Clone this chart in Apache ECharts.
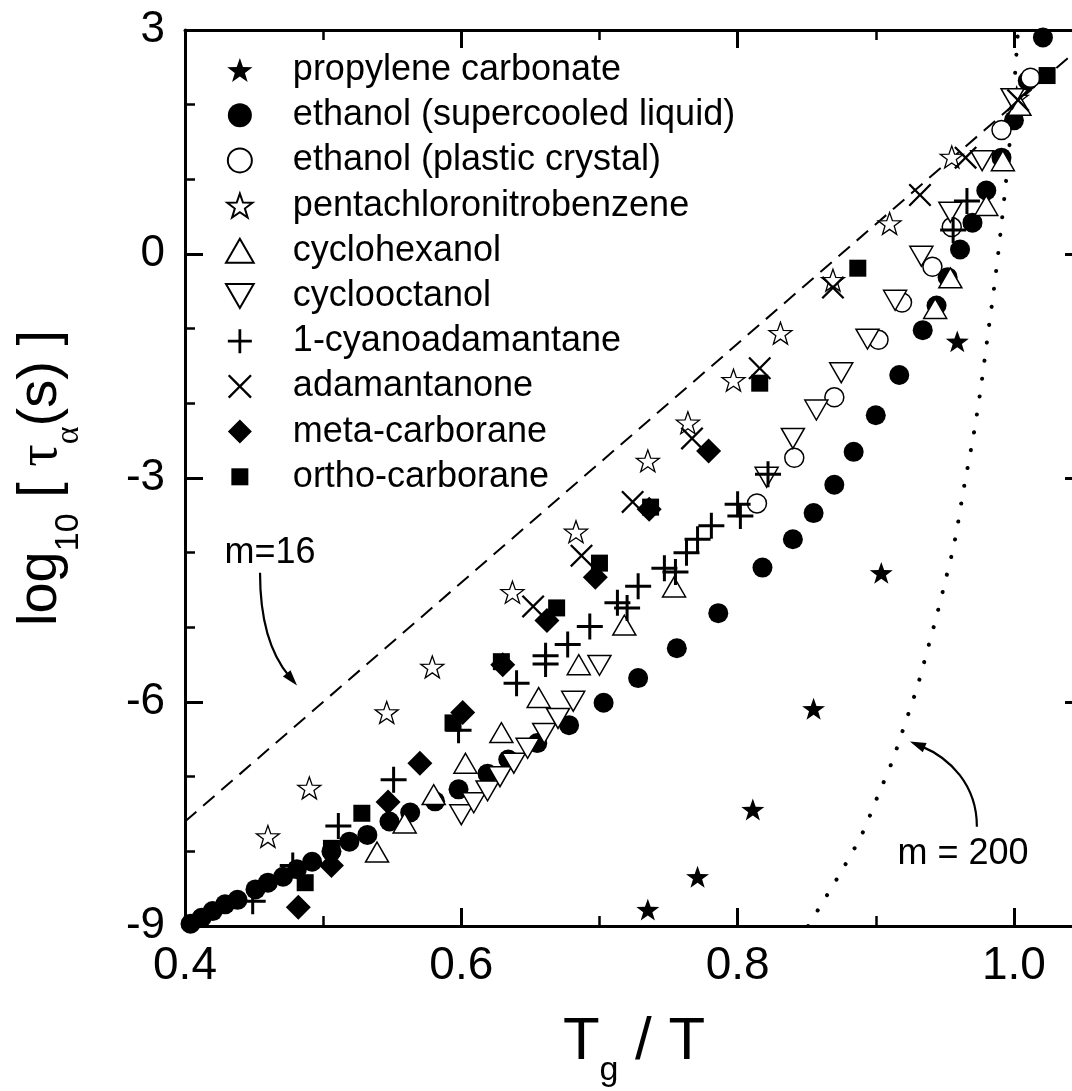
<!DOCTYPE html>
<html>
<head>
<meta charset="utf-8">
<script src="https://cdn.jsdelivr.net/npm/echarts@6/dist/echarts.min.js"></script>
<style>
  html, body { margin: 0; padding: 0; background: #fff; }
  #chart { width: 1072px; height: 1091px; }
</style>
</head>
<body>
<div id="chart"></div>
<script>
// data: [Tg/T, log10 tau]
const propyleneCarbonate = [[0.735,-8.78],[0.771,-8.34],[0.811,-7.44],[0.855,-6.09],[0.904,-4.27],[0.959,-1.17]];
const ethanolLiquid = [
  [0.404,-8.97],[0.412,-8.89],[0.420,-8.80],[0.429,-8.71],[0.438,-8.65],[0.451,-8.51],[0.460,-8.42],
  [0.471,-8.34],[0.481,-8.24],[0.492,-8.14],[0.506,-8.00],[0.519,-7.87],[0.532,-7.78],[0.548,-7.60],
  [0.563,-7.48],[0.581,-7.33],[0.598,-7.17],[0.619,-6.96],[0.634,-6.77],[0.655,-6.55],[0.678,-6.31],
  [0.703,-6.01],[0.728,-5.68],[0.756,-5.28],[0.786,-4.81],[0.818,-4.20],[0.840,-3.82],[0.855,-3.47],
  [0.870,-3.09],[0.884,-2.65],[0.900,-2.16],[0.917,-1.62],[0.934,-1.02],[0.944,-0.69],[0.952,-0.31],
  [0.961,0.06],[0.970,0.42],[0.980,0.85],[0.991,1.29],[1.000,1.79],[1.010,2.32],[1.021,2.90]
];
const ethanolCrystal = [[0.814,-3.34],[0.841,-2.73],[0.870,-1.92],[0.902,-1.15],[0.919,-0.65],[0.941,-0.17],[0.955,0.36],[0.991,1.66],[1.012,2.36]];
const pentachloronitrobenzene = [
  [0.460,-7.80],[0.490,-7.15],[0.546,-6.14],[0.579,-5.53],[0.637,-4.53],[0.683,-3.72],[0.735,-2.77],
  [0.764,-2.26],[0.797,-1.69],[0.831,-1.06],[0.869,-0.35],[0.910,0.41],[0.955,1.30],[1.002,2.09]
];
const cyclohexanol = [
  [0.539,-8.01],[0.559,-7.62],[0.580,-7.24],[0.603,-6.82],[0.629,-6.41],[0.656,-5.94],[0.685,-5.50],
  [0.718,-4.97],[0.754,-4.46],[0.943,-0.73],[0.954,-0.32],[0.980,0.65],[0.992,1.25],[1.004,1.99]
];
const cyclooctanol = [
  [0.600,-7.51],[0.609,-7.35],[0.619,-7.19],[0.628,-7.00],[0.638,-6.82],[0.648,-6.62],[0.660,-6.42],
  [0.670,-6.22],[0.681,-5.99],[0.700,-5.51],[0.821,-2.99],[0.840,-2.47],[0.857,-2.09],[0.875,-1.59],
  [0.894,-1.14],[0.914,-0.62],[0.933,-0.03],[0.954,0.56],[0.977,1.25],[0.999,2.08]
];
const cyanoadamantane = [
  [0.449,-8.67],[0.478,-8.19],[0.511,-7.66],[0.551,-7.04],[0.598,-6.38],[0.640,-5.75],[0.661,-5.49],
  [0.661,-5.38],[0.677,-5.23],[0.693,-4.99],[0.713,-4.67],[0.720,-4.74],[0.728,-4.45],[0.747,-4.21],
  [0.755,-4.26],[0.763,-4.00],[0.771,-3.82],[0.781,-3.64],[0.800,-3.35],[0.802,-3.51],[0.822,-2.95],
  [0.956,0.32],[0.966,0.71]
];
const adamantanone = [[0.652,-4.72],[0.687,-4.04],[0.724,-3.32],[0.767,-2.47],[0.816,-1.53],[0.869,-0.45],[0.932,0.79],[0.965,1.29],[1.003,2.06]];
const metaCarborane = [[0.482,-8.75],[0.506,-8.19],[0.547,-7.34],[0.570,-6.82],[0.601,-6.14],[0.630,-5.50],[0.662,-4.91],[0.697,-4.33],[0.736,-3.42],[0.779,-2.64]];
const orthoCarborane = [[0.487,-8.42],[0.506,-7.96],[0.528,-7.49],[0.594,-6.28],[0.629,-5.46],[0.669,-4.74],[0.700,-4.14],[0.737,-3.39],[0.816,-1.73],[0.887,-0.19],[1.024,2.39]];

// guide curves
const strongLine = [[0.4,-7.6],[1.05,2.8]];           // m = 16
const fragileCurve = [
  [0.851,-9.0],[0.860,-8.73],[0.876,-8.24],[0.890,-7.77],[0.901,-7.28],[0.912,-6.79],[0.921,-6.30],
  [0.930,-5.80],[0.937,-5.33],[0.944,-4.85],[0.951,-4.33],[0.957,-3.86],[0.964,-3.11],[0.971,-2.40],
  [0.976,-1.80],[0.981,-1.10],[0.986,-0.40],[0.991,0.40],[0.996,1.30],[1.000,2.20],[1.003,3.0]
];                                                      // m = 200

// annotations (data coords)
const note16 = {text: 'm=16', at: [0.4615,-4.0], arrow: [[0.4543,-4.27],[0.4543,-5.03],[0.4651,-5.43],[0.4811,-5.78]]};
const note200 = {text: 'm = 200', at: [0.9631,-8.04], arrow: [[0.9732,-7.67],[0.9732,-7.11],[0.9537,-6.75],[0.9247,-6.53]]};

const xTicks = [0.4, 0.6, 0.8, 1.0];

const FONT = 'Liberation Sans, Arial, Helvetica, sans-serif';
const STAR = 'path://M0,-10L2.35,-3.24L9.51,-3.09L3.8,1.24L5.88,8.09L0,4L-5.88,8.09L-3.8,1.24L-9.51,-3.09L-2.35,-3.24Z';
const TRI_UP = 'path://M10,0L20,17.32L0,17.32Z';
const TRI_DOWN = 'path://M0,0L20,0L10,17.32Z';
const PLUS = 'path://M11.5,0H14.5V11.5H26V14.5H14.5V26H11.5V14.5H0V11.5H11.5Z';
const CROSS = 'path://M0,1.4L1.4,0L10,8.6L18.6,0L20,1.4L11.4,10L20,18.6L18.6,20L10,11.4L1.4,20L0,18.6L8.6,10Z';
const DIAMOND = 'path://M10,0L20,10L10,20L0,10Z';
// square padded with bare move-to points so the legend icon stays small
const SQUARE = 'path://M0,0M24,24M3.5,3.5H20.5V20.5H3.5Z';

const markers = [
  {name: 'propylene carbonate', data: propyleneCarbonate, symbol: STAR, size: 23, fill: '#000'},
  {name: 'ethanol (supercooled liquid)', data: ethanolLiquid, symbol: 'circle', size: 20, fill: '#000'},
  {name: 'ethanol (plastic crystal)', data: ethanolCrystal, symbol: 'circle', size: 19, fill: '#fff', border: 1.5},
  {name: 'pentachloronitrobenzene', data: pentachloronitrobenzene, symbol: STAR, size: 23, fill: '#fff', border: 1.3},
  {name: 'cyclohexanol', data: cyclohexanol, symbol: TRI_UP, size: 23, fill: '#fff', border: 1.5},
  {name: 'cyclooctanol', data: cyclooctanol, symbol: TRI_DOWN, size: 23, fill: '#fff', border: 1.5},
  {name: '1-cyanoadamantane', data: cyanoadamantane, symbol: PLUS, size: 26, fill: '#000'},
  {name: 'adamantanone', data: adamantanone, symbol: CROSS, size: 23, fill: '#000'},
  {name: 'meta-carborane', data: metaCarborane, symbol: DIAMOND, size: 25, fill: '#000'},
  {name: 'ortho-carborane', data: orthoCarborane, symbol: SQUARE, size: 24, fill: '#000'}
];

const chart = echarts.init(document.getElementById('chart'), null, {renderer: 'canvas'});

const series = markers.map((m) => {
  return {
    name: m.name,
    type: 'scatter',
    data: m.data,
    symbol: m.symbol,
    symbolSize: m.size,
    symbolKeepAspect: true,
    itemStyle: {color: m.fill, borderColor: '#000', borderWidth: m.border || 0, opacity: 1}
  };
});
series.push({
  name: 'm16', type: 'line', data: strongLine, showSymbol: false, silent: true,
  lineStyle: {color: '#000', width: 2, type: [15, 9]}, z: 1
});
series.push({
  name: 'm200', type: 'line', data: fragileCurve, showSymbol: false, silent: true, smooth: 0.3,
  lineStyle: {color: '#000', width: 4, type: [0.1, 18], cap: 'round'}, z: 1
});

const frameLine = {show: true, onZero: false, lineStyle: {color: '#000', width: 3}};
const majorX = (pos, labels) => ({
  type: 'value', position: pos, min: 0.4, max: 1.05, interval: 0.2, gridIndex: 0,
  axisLine: frameLine,
  axisTick: {show: true, inside: true, length: 18, lineStyle: {color: '#000', width: 3}},
  axisLabel: {
    show: labels, color: '#000', fontSize: 46, fontFamily: FONT, margin: 17,
    formatter: (v) => xTicks.some((t) => Math.abs(t - v) < 1e-6) ? v.toFixed(1) : ''
  },
  splitLine: {show: false}
});
const minorX = (pos) => ({
  type: 'value', position: pos, min: 0.4, max: 1.05, interval: 0.1, gridIndex: 0,
  axisLine: {show: false, onZero: false},
  axisTick: {show: true, inside: true, length: 10, lineStyle: {color: '#000', width: 2.5}},
  axisLabel: {show: false},
  splitLine: {show: false}
});
const majorY = (pos, labels) => ({
  type: 'value', position: pos, min: -9, max: 3, interval: 3, gridIndex: 0,
  axisLine: frameLine,
  axisTick: {show: true, inside: true, length: 18, lineStyle: {color: '#000', width: 3}},
  minorTick: {show: true, splitNumber: 3, length: 10, lineStyle: {color: '#000', width: 2.5}},
  axisLabel: {show: labels, color: '#000', fontSize: 44, fontFamily: FONT, margin: 20},
  splitLine: {show: false}
});

const xMain = majorX('bottom', true);
xMain.name = '{m|T}{s|g}{m| / T}';
xMain.nameLocation = 'middle';
xMain.nameGap = 70;
xMain.nameTextStyle = {
  color: '#000', fontFamily: FONT,
  rich: {
    m: {fontSize: 60, fontFamily: FONT, color: '#000'},
    s: {fontSize: 34, fontFamily: FONT, color: '#000', padding: [58, 0, 0, 0]}
  }
};

const yMain = majorY('left', true);
yMain.name = '{m|log}{s|10}{m| [ }{g|τ}{gs|α}{m|(s) ]}';
yMain.nameLocation = 'middle';
yMain.nameGap = 99;
yMain.nameTextStyle = {
  color: '#000', fontFamily: FONT,
  rich: {
    m: {fontSize: 56, fontFamily: FONT, color: '#000'},
    s: {fontSize: 34, fontFamily: FONT, color: '#000', padding: [56, 0, 0, 0]},
    g: {fontSize: 56, fontFamily: 'Liberation Serif, serif', color: '#000'},
    gs: {fontSize: 34, fontFamily: 'Liberation Serif, serif', color: '#000', padding: [56, 0, 0, 0]}
  }
};

const option = {
  backgroundColor: '#fff',
  animation: false,
  grid: {left: 185, top: 30, width: 898, height: 896, containLabel: false, outerBoundsMode: 'none'},
  legend: {
    orient: 'vertical', left: 225, top: 52, padding: 0,
    itemWidth: 96, itemHeight: 24, itemGap: 9.2,
    selectedMode: false,
    data: markers.map((m) => m.name),
    textStyle: {color: '#000', fontSize: 36, fontFamily: FONT, lineHeight: 36}
  },
  xAxis: [xMain, majorX('top', false), minorX('bottom'), minorX('top')],
  yAxis: [yMain, majorY('right', false)],
  series: series
};
chart.setOption(option);

// annotation arrows and labels placed from data coords
const px = (p) => chart.convertToPixel({xAxisIndex: 0, yAxisIndex: 0}, p);
const arrowGraphic = (note) => {
  const pts = note.arrow.map(px);
  const tip = pts[3], cp = pts[2];
  const dx = tip[0] - cp[0], dy = tip[1] - cp[1];
  const len = Math.sqrt(dx * dx + dy * dy);
  const ux = dx / len, uy = dy / len;
  const headL = 16, headW = 5;
  const bx = tip[0] - ux * headL, by = tip[1] - uy * headL;
  const at = px(note.at);
  return [
    {
      type: 'bezierCurve',
      shape: {
        x1: pts[0][0], y1: pts[0][1], cpx1: pts[1][0], cpy1: pts[1][1],
        cpx2: pts[2][0], cpy2: pts[2][1], x2: bx + ux * 4, y2: by + uy * 4
      },
      style: {stroke: '#000', lineWidth: 2.2, fill: null}
    },
    {
      type: 'polygon',
      shape: {points: [tip, [bx - uy * headW, by + ux * headW], [bx + uy * headW, by - ux * headW]]},
      style: {fill: '#000'}
    },
    {
      type: 'text', x: at[0], y: at[1],
      style: {text: note.text, fill: '#000', font: '36px ' + FONT, align: 'center', verticalAlign: 'middle'}
    }
  ];
};
chart.setOption({graphic: arrowGraphic(note16).concat(arrowGraphic(note200))});
</script>
</body>
</html>
